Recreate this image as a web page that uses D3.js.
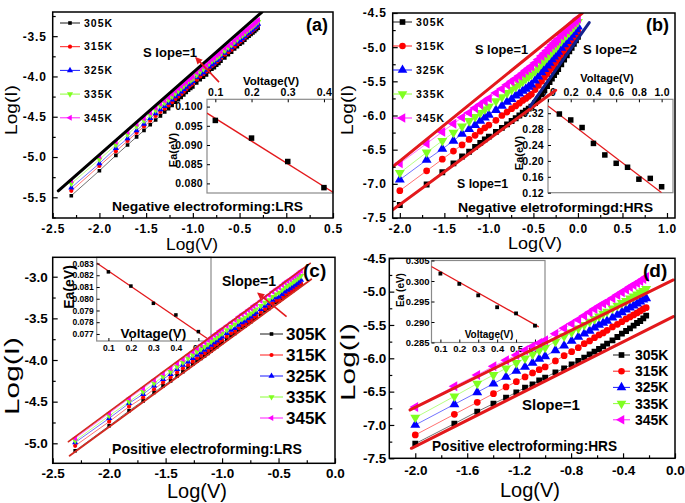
<!DOCTYPE html>
<html><head><meta charset="utf-8">
<script src="https://cdn.jsdelivr.net/npm/d3@7"></script>
<style>body{margin:0;background:#fff}svg{display:block}</style>
</head><body>
<svg id="chart" width="685" height="503"></svg>
<script>
// ---------------- DATA ----------------
const temps = ["305K", "315K", "325K", "335K", "345K"];
const colors = ["#000000", "#ff0000", "#0000ff", "#80ff20", "#ff00ff"];

// (a) Negative electroforming: LRS  and (c) Positive electroforming: LRS  (voltage in V)
const vLRS = [0.005,0.01,0.015,0.02,0.025,0.03,0.035,0.04,0.045,0.05,0.055,0.06,0.065,0.07,0.075,0.08,0.085,0.09,0.095,0.1,0.11,0.12,0.13,0.14,0.15,0.16,0.17,0.18,0.19,0.2,0.22,0.24,0.26,0.28,0.3,0.32,0.34,0.36,0.38,0.4,0.42,0.44,0.46,0.48,0.5];
const a305 = [-5.48,-5.17,-4.98,-4.85,-4.75,-4.67,-4.60,-4.54,-4.49,-4.44,-4.40,-4.36,-4.32,-4.29,-4.26,-4.23,-4.20,-4.17,-4.15,-4.13,-4.08,-4.04,-4.01,-3.98,-3.94,-3.91,-3.89,-3.86,-3.84,-3.81,-3.77,-3.73,-3.70,-3.66,-3.63,-3.60,-3.58,-3.55,-3.52,-3.50,-3.48,-3.46,-3.44,-3.42,-3.40];
const a315 = [-5.42,-5.11,-4.93,-4.80,-4.70,-4.62,-4.55,-4.49,-4.44,-4.40,-4.36,-4.32,-4.28,-4.25,-4.22,-4.19,-4.16,-4.13,-4.11,-4.09,-4.04,-4.00,-3.97,-3.94,-3.90,-3.87,-3.85,-3.82,-3.80,-3.77,-3.73,-3.70,-3.67,-3.63,-3.60,-3.57,-3.55,-3.52,-3.49,-3.47,-3.45,-3.43,-3.41,-3.39,-3.37];
const a325 = [-5.38,-5.08,-4.89,-4.77,-4.67,-4.59,-4.52,-4.46,-4.41,-4.37,-4.33,-4.29,-4.25,-4.22,-4.19,-4.16,-4.13,-4.10,-4.08,-4.06,-4.01,-3.97,-3.95,-3.92,-3.88,-3.85,-3.83,-3.80,-3.78,-3.75,-3.71,-3.67,-3.64,-3.60,-3.57,-3.55,-3.53,-3.50,-3.47,-3.45,-3.43,-3.41,-3.39,-3.37,-3.35];
const a335 = [-5.33,-5.03,-4.85,-4.72,-4.62,-4.55,-4.48,-4.42,-4.37,-4.33,-4.29,-4.25,-4.21,-4.18,-4.15,-4.12,-4.09,-4.06,-4.05,-4.03,-3.98,-3.94,-3.91,-3.88,-3.84,-3.81,-3.79,-3.77,-3.75,-3.72,-3.68,-3.64,-3.61,-3.57,-3.54,-3.51,-3.49,-3.47,-3.44,-3.42,-3.40,-3.38,-3.36,-3.34,-3.32];
const a345 = [-5.29,-4.99,-4.81,-4.69,-4.59,-4.52,-4.45,-4.39,-4.34,-4.30,-4.26,-4.22,-4.18,-4.15,-4.12,-4.09,-4.07,-4.04,-4.02,-4.00,-3.95,-3.91,-3.88,-3.86,-3.82,-3.79,-3.77,-3.74,-3.72,-3.69,-3.65,-3.62,-3.59,-3.55,-3.52,-3.49,-3.47,-3.44,-3.42,-3.40,-3.38,-3.36,-3.34,-3.32,-3.30];

const c305 = [-5.09,-4.79,-4.61,-4.49,-4.39,-4.31,-4.25,-4.19,-4.14,-4.09,-4.05,-4.01,-3.98,-3.95,-3.92,-3.89,-3.86,-3.84,-3.81,-3.79,-3.75,-3.71,-3.68,-3.64,-3.61,-3.59,-3.56,-3.54,-3.51,-3.49,-3.45,-3.41,-3.38,-3.34,-3.31,-3.29,-3.26,-3.23,-3.21,-3.19,-3.17,-3.15,-3.13,-3.11,-3.09];
const c315 = [-5.03,-4.74,-4.56,-4.45,-4.35,-4.27,-4.21,-4.15,-4.10,-4.06,-4.02,-3.98,-3.95,-3.92,-3.89,-3.86,-3.83,-3.81,-3.78,-3.76,-3.72,-3.68,-3.66,-3.62,-3.59,-3.57,-3.54,-3.52,-3.49,-3.47,-3.43,-3.39,-3.36,-3.32,-3.29,-3.28,-3.25,-3.22,-3.20,-3.18,-3.16,-3.14,-3.12,-3.10,-3.08];
const c325 = [-4.99,-4.70,-4.52,-4.41,-4.31,-4.23,-4.17,-4.11,-4.06,-4.02,-3.98,-3.94,-3.91,-3.88,-3.85,-3.82,-3.79,-3.77,-3.74,-3.72,-3.68,-3.64,-3.62,-3.58,-3.55,-3.53,-3.50,-3.48,-3.45,-3.43,-3.39,-3.35,-3.32,-3.28,-3.25,-3.24,-3.21,-3.18,-3.16,-3.14,-3.12,-3.10,-3.08,-3.06,-3.04];
const c335 = [-4.97,-4.67,-4.50,-4.38,-4.28,-4.20,-4.14,-4.08,-4.03,-3.98,-3.94,-3.90,-3.87,-3.84,-3.81,-3.78,-3.75,-3.73,-3.70,-3.68,-3.64,-3.60,-3.57,-3.53,-3.51,-3.49,-3.46,-3.44,-3.41,-3.39,-3.35,-3.31,-3.28,-3.24,-3.21,-3.19,-3.16,-3.13,-3.11,-3.09,-3.07,-3.05,-3.03,-3.01,-2.99];
const c345 = [-4.94,-4.64,-4.46,-4.34,-4.24,-4.16,-4.10,-4.04,-3.99,-3.94,-3.90,-3.86,-3.82,-3.79,-3.76,-3.73,-3.70,-3.68,-3.65,-3.63,-3.59,-3.55,-3.52,-3.48,-3.45,-3.43,-3.40,-3.38,-3.35,-3.33,-3.29,-3.25,-3.22,-3.18,-3.15,-3.13,-3.10,-3.07,-3.05,-3.03,-3.01,-2.99,-2.97,-2.95,-2.93];

// (b) Negative electroforming: HRS
const vB = [0.01,0.02,0.03,0.04,0.05,0.06,0.07,0.08,0.09,0.1,0.12,0.14,0.16,0.18,0.2,0.22,0.24,0.26,0.28,0.3,0.33,0.36,0.39,0.42,0.45,0.48,0.51,0.54,0.57,0.6,0.65,0.7,0.75,0.8,0.85,0.9,0.95,1.0];
const b305 = [-7.31,-7.01,-6.83,-6.70,-6.60,-6.53,-6.46,-6.40,-6.35,-6.31,-6.24,-6.18,-6.13,-6.08,-6.04,-6.00,-5.96,-5.93,-5.90,-5.87,-5.82,-5.76,-5.69,-5.63,-5.57,-5.51,-5.46,-5.41,-5.36,-5.32,-5.25,-5.18,-5.12,-5.06,-5.01,-4.95,-4.90,-4.85];
const b315 = [-7.10,-6.81,-6.64,-6.52,-6.43,-6.35,-6.29,-6.23,-6.18,-6.14,-6.07,-6.00,-5.95,-5.90,-5.86,-5.82,-5.78,-5.75,-5.72,-5.69,-5.62,-5.56,-5.50,-5.44,-5.39,-5.34,-5.30,-5.25,-5.21,-5.17,-5.11,-5.05,-5.00,-4.95,-4.90,-4.85,-4.81,-4.77];
const b325 = [-6.94,-6.65,-6.49,-6.37,-6.27,-6.20,-6.14,-6.08,-6.03,-5.99,-5.92,-5.86,-5.80,-5.76,-5.71,-5.68,-5.64,-5.61,-5.58,-5.55,-5.49,-5.43,-5.37,-5.32,-5.27,-5.23,-5.18,-5.14,-5.10,-5.07,-5.01,-4.96,-4.91,-4.86,-4.82,-4.78,-4.74,-4.70];
const b335 = [-6.84,-6.54,-6.37,-6.25,-6.16,-6.08,-6.02,-5.96,-5.91,-5.87,-5.79,-5.73,-5.67,-5.62,-5.58,-5.54,-5.50,-5.46,-5.43,-5.40,-5.35,-5.30,-5.24,-5.20,-5.15,-5.11,-5.07,-5.03,-5.00,-4.96,-4.91,-4.86,-4.82,-4.78,-4.74,-4.70,-4.66,-4.63];
const b345 = [-6.70,-6.41,-6.24,-6.12,-6.03,-5.96,-5.89,-5.84,-5.79,-5.75,-5.67,-5.61,-5.55,-5.50,-5.46,-5.42,-5.38,-5.34,-5.31,-5.28,-5.23,-5.18,-5.13,-5.09,-5.05,-5.01,-4.97,-4.94,-4.91,-4.88,-4.83,-4.79,-4.75,-4.71,-4.67,-4.64,-4.61,-4.58];

// (d) Positive electroforming: HRS
const vD = [0.01,0.02,0.03,0.04,0.05,0.06,0.07,0.08,0.09,0.1,0.12,0.14,0.16,0.18,0.2,0.22,0.24,0.26,0.28,0.3,0.33,0.36,0.39,0.42,0.45,0.48,0.51,0.54,0.57,0.6];
const d305 = [-7.28,-6.98,-6.80,-6.68,-6.59,-6.51,-6.44,-6.39,-6.33,-6.29,-6.21,-6.15,-6.09,-6.04,-5.99,-5.94,-5.90,-5.86,-5.82,-5.78,-5.73,-5.68,-5.63,-5.59,-5.55,-5.51,-5.47,-5.44,-5.40,-5.36];
const d315 = [-7.15,-6.84,-6.66,-6.53,-6.43,-6.35,-6.28,-6.22,-6.17,-6.13,-6.04,-5.96,-5.90,-5.84,-5.78,-5.74,-5.69,-5.65,-5.62,-5.58,-5.53,-5.49,-5.45,-5.41,-5.38,-5.35,-5.32,-5.29,-5.26,-5.24];
const d325 = [-7.00,-6.69,-6.51,-6.38,-6.28,-6.19,-6.13,-6.07,-6.01,-5.97,-5.88,-5.81,-5.74,-5.68,-5.63,-5.59,-5.54,-5.50,-5.47,-5.44,-5.39,-5.35,-5.31,-5.27,-5.24,-5.21,-5.18,-5.15,-5.12,-5.10];
const d335 = [-6.89,-6.57,-6.38,-6.25,-6.15,-6.07,-6.00,-5.94,-5.88,-5.84,-5.75,-5.67,-5.61,-5.55,-5.50,-5.45,-5.41,-5.37,-5.33,-5.30,-5.25,-5.21,-5.17,-5.14,-5.10,-5.07,-5.04,-5.01,-4.99,-4.96];
const d345 = [-6.73,-6.42,-6.25,-6.12,-6.03,-5.95,-5.88,-5.82,-5.77,-5.73,-5.63,-5.55,-5.48,-5.42,-5.36,-5.31,-5.26,-5.22,-5.18,-5.15,-5.10,-5.05,-5.01,-4.97,-4.93,-4.90,-4.87,-4.84,-4.81,-4.78];

// Slope fit lines (Log V endpoints, Log I endpoints)
const aFitX = [-2.44, -0.26], aFitY = [-5.42, -3.20];
const bFitUpX = [-2.08, 0.05], bFitUpY = [-6.75, -4.50];
const bFitLoX = [-2.08, -0.25], bFitLoY = [-7.38, -5.63];
const bFit2X = [-0.54, 0.127], bFit2Y = [-5.87, -4.64];
const cFitUpX = [-2.36, -0.22], cFitUpY = [-4.98, -2.84];
const cFitLoX = [-2.35, -0.21], cFitLoY = [-5.15, -3.03];
const dFitUpX = [-2.04, -0.013], dFitUpY = [-6.775, -4.825];
const dFitLoX = [-2.03, -0.013], dFitLoY = [-7.35, -5.375];

// Insets: activation energy Ea (eV) vs voltage (V)
const aInV = [0.1, 0.2, 0.3, 0.4], aInEa = [0.0964, 0.0918, 0.0857, 0.0789];
const aInFitV = [0.077, 0.425], aInFitEa = [0.0983, 0.0777];
const bInV = [0.1,0.2,0.3,0.4,0.5,0.6,0.7,0.8,0.9,1.0], bInEa = [0.318,0.303,0.284,0.244,0.215,0.194,0.184,0.154,0.156,0.135];
const bInFitV = [0.0, 1.0], bInFitEa = [0.338, 0.12];
const cInV = [0.1,0.2,0.3,0.4,0.5], cInEa = [0.08229,0.08108,0.07961,0.07862,0.0772];
const cInFitV = [0.048, 0.556], cInFitEa = [0.08305, 0.0764];
const dInV = [0.1,0.2,0.3,0.4,0.5,0.6], dInEa = [0.3018,0.2993,0.2965,0.2936,0.2921,0.2891];
const dInFitV = [0.05, 0.62], dInFitEa = [0.3036, 0.2888];

// Tick values
const aXTicks = [-2.5,-2.0,-1.5,-1.0,-0.5,0.0,0.5], aYTicks = [-5.5,-5.0,-4.5,-4.0,-3.5];
const bXTicks = [-2.0,-1.5,-1.0,-0.5,0.0,0.5,1.0], bYTicks = [-7.5,-7.0,-6.5,-6.0,-5.5,-5.0,-4.5];
const cXTicks = [-2.5,-2.0,-1.5,-1.0,-0.5,0.0], cYTicks = [-5.0,-4.5,-4.0,-3.5,-3.0];
const dXTicks = [-2.0,-1.6,-1.2,-0.8,-0.4,0.0], dYTicks = [-7.5,-7.0,-6.5,-6.0,-5.5,-5.0,-4.5];
const aInXTicks = [0.1,0.2,0.3,0.4], aInYTicks = [0.080,0.085,0.090,0.095,0.100];
const bInXTicks = [0.0,0.2,0.4,0.6,0.8,1.0], bInYTicks = [0.12,0.16,0.20,0.24,0.28,0.32];
const cInXTicks = [0.1,0.2,0.3,0.4,0.5], cInYTicks = [0.077,0.078,0.079,0.080,0.081,0.082,0.083];
const dInXTicks = [0.1,0.2,0.3,0.4,0.5,0.6], dInYTicks = [0.285,0.290,0.295,0.300,0.305];

// ---------------- DRAWING ----------------
const FONT = "'Liberation Sans', Arial, sans-serif";
const RED = "#e3191c";
const svg = d3.select("#chart");
const defs = svg.append("defs");
defs.append("marker").attr("id", "arrRed").attr("viewBox", "0 0 10 10")
  .attr("refX", 8).attr("refY", 5).attr("markerWidth", 4.5).attr("markerHeight", 4.5)
  .attr("orient", "auto").append("path").attr("d", "M0,0L10,5L0,10z").attr("fill", RED);

const shapeTypes = [d3.symbolSquare, d3.symbolCircle, d3.symbolTriangle, d3.symbolTriangle, d3.symbolTriangle];
const shapeRot = [0, 0, 0, 180, -90];
const shapeScale = [1, 1.05, 1.25, 1.25, 1.25];

function addMarker(g, cx, cy, i, area) {
  g.append("path")
    .attr("d", d3.symbol().type(shapeTypes[i]).size(area * shapeScale[i])())
    .attr("transform", `translate(${cx},${cy}) rotate(${shapeRot[i]})`)
    .attr("fill", colors[i]);
}

function styleText(sel, size, weight, ls) {
  sel.attr("font-family", FONT).attr("font-size", size).attr("font-weight", weight || "bold")
     .attr("letter-spacing", ls || 0).attr("fill", "#000");
}

function drawAxes(g, x, y, p) {
  const fmtX = d => d.toFixed(p.xDec), fmtY = d => d.toFixed(p.yDec);
  const xa = g.append("g").attr("transform", `translate(0,${p.b})`)
    .call(d3.axisBottom(x).tickValues(p.xTicks).tickSize(-p.tick).tickPadding(p.xPad).tickFormat(fmtX));
  const xm = g.append("g").attr("transform", `translate(0,${p.b})`)
    .call(d3.axisBottom(x).tickValues(p.xMinor).tickSize(-p.tick * 0.6).tickFormat(""));
  const ya = g.append("g").attr("transform", `translate(${p.l},0)`)
    .call(d3.axisLeft(y).tickValues(p.yTicks).tickSize(-p.tick).tickPadding(p.yPad).tickFormat(fmtY));
  const ym = g.append("g").attr("transform", `translate(${p.l},0)`)
    .call(d3.axisLeft(y).tickValues(p.yMinor).tickSize(-p.tick * 0.6).tickFormat(""));
  [xa, xm, ya, ym].forEach(s => {
    s.select(".domain").remove();
    s.selectAll("line").attr("stroke", "#000").attr("stroke-width", 1.2);
    styleText(s.selectAll("text"), p.tickFont, "bold", p.tickLs);
  });
}

function drawInset(g, s) {
  const x = d3.scaleLinear().domain(s.xd).range([s.l, s.r]);
  const y = d3.scaleLinear().domain(s.yd).range([s.b, s.t]);
  const id = "clipIn" + s.id;
  defs.append("clipPath").attr("id", id).append("rect")
    .attr("x", s.l).attr("y", s.t).attr("width", s.r - s.l).attr("height", s.b - s.t);
  g.append("rect").attr("x", s.l).attr("y", s.t).attr("width", s.r - s.l).attr("height", s.b - s.t)
    .attr("fill", "none").attr("stroke", "#8a8a8a").attr("stroke-width", 1.2);
  const inner = g.append("g").attr("clip-path", `url(#${id})`);
  inner.append("line").attr("x1", x(s.fitV[0])).attr("y1", y(s.fitEa[0]))
    .attr("x2", x(s.fitV[1])).attr("y2", y(s.fitEa[1]))
    .attr("stroke", RED).attr("stroke-width", 1.3);
  s.V.forEach((v, k) => {
    const sz = s.pt;
    g.append("rect").attr("x", x(v) - sz / 2).attr("y", y(s.Ea[k]) - sz / 2)
      .attr("width", sz).attr("height", sz).attr("fill", "#000");
  });
  const xAxisFn = s.xTop ? d3.axisTop(x) : d3.axisBottom(x);
  const xa = g.append("g").attr("transform", `translate(0,${s.xTop ? s.t : s.b})`)
    .call(xAxisFn.tickValues(s.xTicks).tickSize(-3).tickPadding(s.xPad).tickFormat(d => d.toFixed(1)));
  const ya = g.append("g").attr("transform", `translate(${s.l},0)`)
    .call(d3.axisLeft(y).tickValues(s.yTicks).tickSize(-3).tickPadding(s.yPad).tickFormat(d => d.toFixed(s.yDec)));
  [xa, ya].forEach(a => {
    a.select(".domain").remove();
    a.selectAll("line").attr("stroke", "#000").attr("stroke-width", 1);
    styleText(a.selectAll("text"), s.tickFont, "bold", s.tickLs);
  });
  styleText(g.append("text").attr("x", s.vLab[0]).attr("y", s.vLab[1]).attr("text-anchor", "middle")
    .text("Voltage(V)"), s.vLab[2], "bold");
  styleText(g.append("text").attr("transform", `translate(${s.eLab[0]},${s.eLab[1]}) rotate(-90)`)
    .attr("text-anchor", "middle").text(s.eLab[3]), s.eLab[2], "bold");
}

function drawPanel(p) {
  const g = svg.append("g");
  const x = d3.scaleLinear().domain(p.xd).range([p.l, p.r]);
  const y = d3.scaleLinear().domain(p.yd).range([p.b, p.t]);
  const id = "clip" + p.id;
  defs.append("clipPath").attr("id", id).append("rect")
    .attr("x", p.l).attr("y", p.t).attr("width", p.r - p.l).attr("height", p.b - p.t);

  drawInset(g, p.inset);

  const plot = g.append("g").attr("clip-path", `url(#${id})`);
  const line = d3.line().x(d => x(d[0])).y(d => y(d[1]));
  p.series.forEach((ys, i) => {
    const pts = p.V.map((v, k) => [Math.log10(v), ys[k]]);
    plot.append("path").attr("d", line(pts)).attr("fill", "none")
      .attr("stroke", colors[i]).attr("stroke-width", 0.8).attr("opacity", 0.7);
  });
  p.series.forEach((ys, i) => {
    p.V.forEach((v, k) => addMarker(plot, x(Math.log10(v)), y(ys[k]), i, p.mk));
  });
  p.fits.forEach(f => {
    plot.append("line").attr("x1", x(f.x[0])).attr("y1", y(f.y[0]))
      .attr("x2", x(f.x[1])).attr("y2", y(f.y[1]))
      .attr("stroke", f.c).attr("stroke-width", f.w).attr("stroke-linecap", "round");
  });
  (p.arrows || []).forEach(a => {
    g.append("line").attr("x1", x(a[0])).attr("y1", y(a[1])).attr("x2", x(a[2])).attr("y2", y(a[3]))
      .attr("stroke", RED).attr("stroke-width", 1.6).attr("marker-end", "url(#arrRed)");
  });

  // frame
  g.append("rect").attr("x", p.l).attr("y", p.t).attr("width", p.r - p.l).attr("height", p.b - p.t)
    .attr("fill", "none").attr("stroke", "#000").attr("stroke-width", 1.5);
  drawAxes(g, x, y, p);

  // legend
  const L = p.legend;
  temps.forEach((t, i) => {
    const yy = L.y0 + L.dy * i;
    g.append("line").attr("x1", L.x0).attr("x2", L.x1).attr("y1", yy).attr("y2", yy)
      .attr("stroke", colors[i]).attr("stroke-width", 0.9);
    addMarker(g, (L.x0 + L.x1) / 2, yy, i, L.mk);
    styleText(g.append("text").attr("x", L.tx).attr("y", yy + L.fs * 0.36).text(t), L.fs, "bold", L.ls);
  });

  // texts
  p.texts.forEach(t => {
    const el = g.append("text").attr("x", t.x).attr("y", t.y).text(t.s);
    styleText(el, t.fs, t.w || "bold", t.ls || 0);
    if (t.tl) el.attr("textLength", t.tl).attr("lengthAdjust", "spacingAndGlyphs");
  });
  // axis titles
  const yl = g.append("text").attr("transform", `translate(${p.yTitle[0]},${p.yTitle[1]}) rotate(-90)`)
    .attr("text-anchor", "middle").text("Log(I)");
  styleText(yl, p.titleFs, "normal", p.titleLs);
  if (p.yTitle[2]) yl.attr("textLength", p.yTitle[2]).attr("lengthAdjust", "spacingAndGlyphs");
  const xl = g.append("text").attr("x", p.xTitle[0]).attr("y", p.xTitle[1]).attr("text-anchor", "middle").text("Log(V)");
  styleText(xl, p.titleFs, "normal", p.titleLs);
  if (p.xTitle[2]) xl.attr("textLength", p.xTitle[2]).attr("lengthAdjust", "spacingAndGlyphs");
}

const minorBetween = (ticks, step, lo, hi) => {
  const out = [];
  for (let k = 0; k < ticks.length; k++) {
    [ticks[k] - step / 2, ticks[k] + step / 2].forEach(v => {
      if (v > lo && v < hi && !out.some(o => Math.abs(o - v) < 1e-9)) out.push(v);
    });
  }
  return out;
};

// Panel (a)
drawPanel({
  id: "a", l: 52.7, r: 333, t: 12, b: 218, xd: [-2.5, 0.5], yd: [-5.757, -3.2],
  V: vLRS, series: [a305, a315, a325, a335, a345], mk: 13,
  xTicks: aXTicks, yTicks: aYTicks, xMinor: minorBetween(aXTicks, 0.5, -2.5, 0.5), yMinor: minorBetween(aYTicks, 0.5, -5.757, -3.2),
  xDec: 1, yDec: 1, tick: 5, xPad: 6, yPad: 6, tickFont: 12, tickLs: 0.8,
  fits: [{x: aFitX, y: aFitY, c: "#000", w: 3}],
  arrows: [[-0.72, -4.07, -0.965, -3.77]],
  legend: {x0: 60, x1: 80, tx: 84, y0: 23, dy: 23.7, fs: 10.5, ls: 1, mk: 13},
  texts: [
    {x: 306, y: 31, s: "(a)", fs: 18},
    {x: 143, y: 57, s: "S lope=1", fs: 12, tl: 54},
    {x: 112, y: 211, s: "Negative electroforming:LRS", fs: 12, tl: 191}
  ],
  titleFs: 17, titleLs: 0, yTitle: [17, 110, 50], xTitle: [192, 250, 52],
  inset: {id: "a", l: 207, r: 333, t: 99.3, b: 193, xd: [0.077, 0.425], yd: [0.0775, 0.1019],
    V: aInV, Ea: aInEa, fitV: aInFitV, fitEa: aInFitEa, pt: 5.5, xTop: true,
    xTicks: aInXTicks, yTicks: aInYTicks, yDec: 3, xPad: 3, yPad: 4, tickFont: 10.5, tickLs: 0.3,
    vLab: [271, 85, 11.5], eLab: [177, 150, 11, "Ea(eV)"]}
});

// Panel (b)
drawPanel({
  id: "b", l: 392.7, r: 675, t: 13, b: 218, xd: [-2.08, 1.09], yd: [-7.5, -4.5],
  V: vB, series: [b305, b315, b325, b335, b345], mk: 34,
  xTicks: bXTicks, yTicks: bYTicks, xMinor: minorBetween(bXTicks, 0.5, -2.08, 1.09), yMinor: minorBetween(bYTicks, 0.5, -7.5, -4.5),
  xDec: 1, yDec: 1, tick: 5, xPad: 6, yPad: 6, tickFont: 12, tickLs: 0.8,
  fits: [
    {x: bFitLoX, y: bFitLoY, c: RED, w: 3},
    {x: bFitUpX, y: bFitUpY, c: RED, w: 3},
    {x: bFit2X, y: bFit2Y, c: "#13238f", w: 3}
  ],
  legend: {x0: 393, x1: 412, tx: 416, y0: 22, dy: 24, fs: 10.5, ls: 1, mk: 32},
  texts: [
    {x: 646, y: 31, s: "(b)", fs: 18},
    {x: 475, y: 54, s: "S lope=1", fs: 12, tl: 53},
    {x: 583, y: 54, s: "S lope=2", fs: 12, tl: 54},
    {x: 457, y: 188, s: "S lope=1", fs: 12, tl: 51},
    {x: 458, y: 212, s: "Negative eletroformingd:HRS", fs: 12, tl: 195}
  ],
  titleFs: 17, titleLs: 0, yTitle: [353, 110, 50], xTitle: [535, 249, 54],
  inset: {id: "b", l: 548, r: 673, t: 99.3, b: 192.7, xd: [0.0, 1.1], yd: [0.12, 0.355],
    V: bInV, Ea: bInEa, fitV: bInFitV, fitEa: bInFitEa, pt: 5.5, xTop: true,
    xTicks: bInXTicks, yTicks: bInYTicks, yDec: 2, xPad: 3, yPad: 4, tickFont: 10.5, tickLs: 0.3,
    vLab: [607, 82, 11], eLab: [523, 153, 11, "Ea(eV)"]}
});

// Panel (c)
drawPanel({
  id: "c", l: 52.7, r: 335, t: 257.3, b: 463.3, xd: [-2.5, 0.0], yd: [-5.24, -2.767],
  V: vLRS, series: [c305, c315, c325, c335, c345], mk: 13,
  xTicks: cXTicks, yTicks: cYTicks, xMinor: minorBetween(cXTicks, 0.5, -2.5, 0), yMinor: minorBetween(cYTicks, 0.5, -5.24, -2.767),
  xDec: 1, yDec: 1, tick: 5, xPad: 5, yPad: 5, tickFont: 13.5, tickLs: 0,
  fits: [
    {x: cFitUpX, y: cFitUpY, c: "#d42a20", w: 1.8},
    {x: cFitLoX, y: cFitLoY, c: "#d42a20", w: 1.8}
  ],
  arrows: [[-0.429, -3.48, -0.68, -3.2]],
  legend: {x0: 260, x1: 283, tx: 286, y0: 334, dy: 21, fs: 17, ls: 0, mk: 13},
  texts: [
    {x: 303, y: 277, s: "(c)", fs: 19},
    {x: 222, y: 286, s: "Slope=1", fs: 14},
    {x: 112, y: 454, s: "Positive electroforming:LRS", fs: 14, tl: 190}
  ],
  titleFs: 20, titleLs: 0, yTitle: [19, 376, 78], xTitle: [197, 498, 60],
  inset: {id: "c", l: 96.7, r: 211, t: 257.3, b: 341, xd: [0.048, 0.556], yd: [0.0764, 0.08353],
    V: cInV, Ea: cInEa, fitV: cInFitV, fitEa: cInFitEa, pt: 3.5, xTop: false,
    xTicks: cInXTicks, yTicks: cInYTicks, yDec: 3, xPad: 4, yPad: 3, tickFont: 8.5, tickLs: 0,
    vLab: [153.5, 338, 13.5], eLab: [74, 287, 14, "Ea(eV)"]}
});

// Panel (d)
drawPanel({
  id: "d", l: 389.3, r: 675, t: 258.3, b: 458.3, xd: [-2.2, 0.0], yd: [-7.5, -4.5],
  V: vD, series: [d305, d315, d325, d335, d345], mk: 34,
  xTicks: dXTicks, yTicks: dYTicks, xMinor: minorBetween(dXTicks, 0.4, -2.2, 0.0), yMinor: minorBetween(dYTicks, 0.5, -7.5, -4.5),
  xDec: 1, yDec: 1, tick: 5, xPad: 7, yPad: 3, tickFont: 13.5, tickLs: 0,
  fits: [
    {x: dFitUpX, y: dFitUpY, c: RED, w: 3},
    {x: dFitLoX, y: dFitLoY, c: RED, w: 3}
  ],
  legend: {x0: 613, x1: 630, tx: 635, y0: 355, dy: 16.2, fs: 14, ls: 0, mk: 32},
  texts: [
    {x: 643, y: 277, s: "(d)", fs: 19},
    {x: 522, y: 410, s: "Slope=1", fs: 15},
    {x: 432, y: 451, s: "Positive electroforming:HRS", fs: 14, tl: 185}
  ],
  titleFs: 20, titleLs: 0, yTitle: [355, 362, 78], xTitle: [530, 497, 60],
  inset: {id: "d", l: 431.5, r: 545, t: 260.5, b: 342.5, xd: [0.053, 0.653], yd: [0.285, 0.305],
    V: dInV, Ea: dInEa, fitV: dInFitV, fitEa: dInFitEa, pt: 3.8, xTop: false,
    xTicks: dInXTicks, yTicks: dInYTicks, yDec: 3, xPad: 3, yPad: 2, tickFont: 9.5, tickLs: 0,
    vLab: [489, 338, 10], eLab: [404, 290, 10, "Ea (eV)"]}
});
</script>
</body></html>
